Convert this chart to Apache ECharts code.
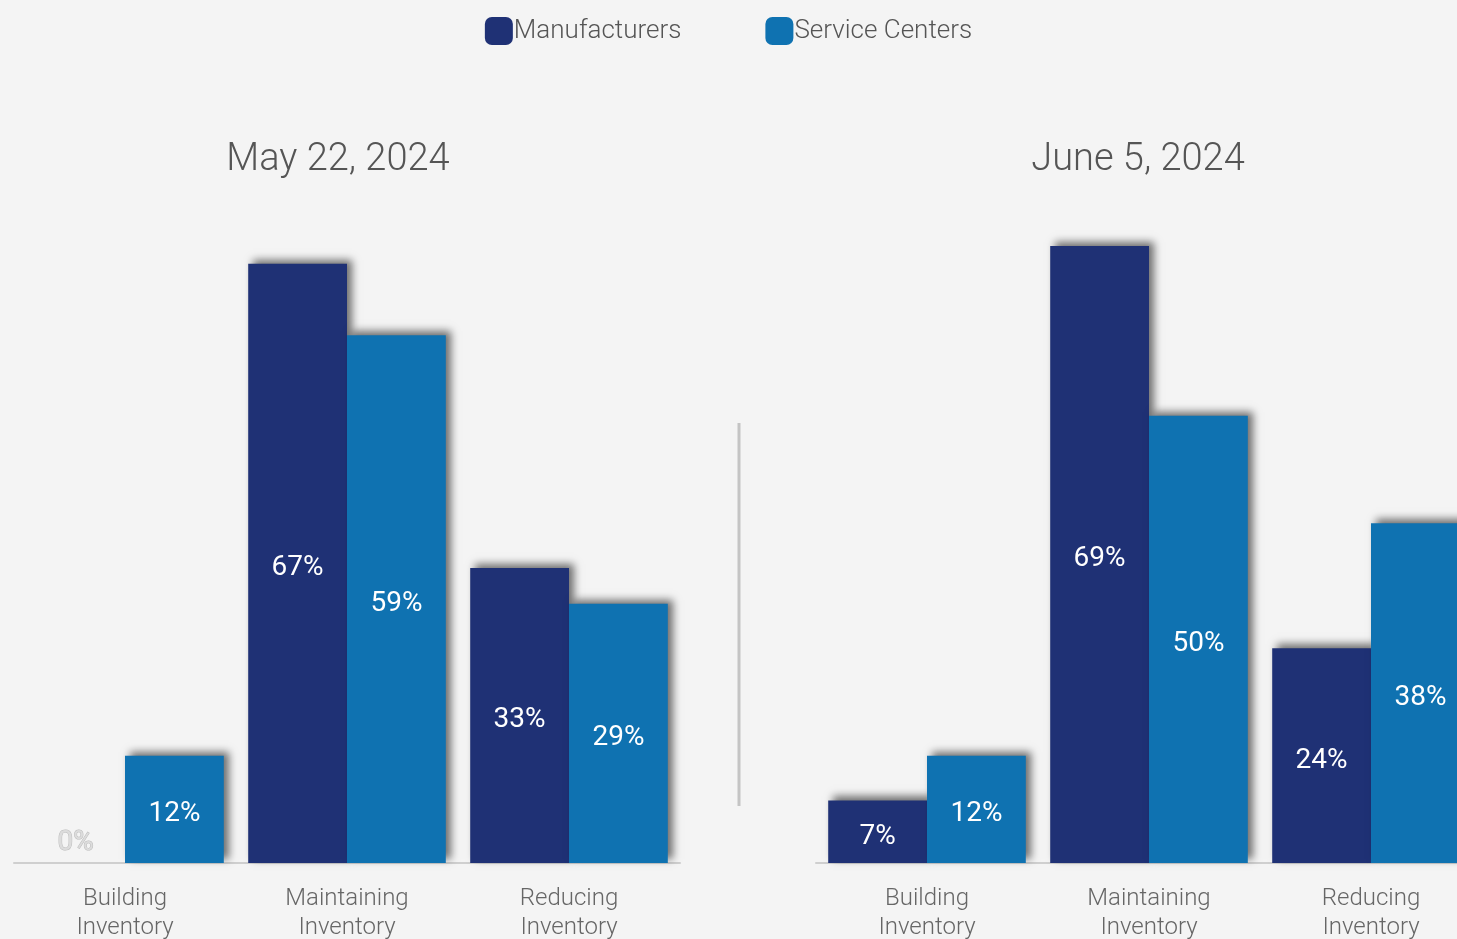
<!DOCTYPE html>
<html><head><meta charset="utf-8">
<script src="https://cdn.jsdelivr.net/npm/echarts@6/dist/echarts.min.js"></script>
<style>html,body{margin:0;padding:0;background:#f4f4f4;}#c{width:1457px;height:939px;}</style>
</head><body><div id="c"></div>
<script>
const categories = ['Building\nInventory', 'Maintaining\nInventory', 'Reducing\nInventory'];
const seriesNames = ['Manufacturers', 'Service Centers'];
const titles = ['May 22, 2024', 'June 5, 2024'];
const mayManufacturers = [0, 67, 33];
const mayServiceCenters = [12, 59, 29];
const juneManufacturers = [7, 69, 24];
const juneServiceCenters = [12, 50, 38];

const colors = ['#1f3175', '#0f72b1'];
const FONT = 'Roboto';
const chart = echarts.init(document.getElementById('c'));

function makeSeries(name, data, idx, color) {
  return {
    name: name, type: 'bar', xAxisIndex: idx, yAxisIndex: idx,
    barGap: '0%', barCategoryGap: '11%',
    itemStyle: { color: color, shadowColor: 'rgba(0,0,0,0.55)', shadowBlur: 8, shadowOffsetX: 5, shadowOffsetY: -4 },
    label: { show: true, position: 'inside', offset: [0, 5], color: '#fff', fontSize: 28, fontFamily: FONT,
      formatter: p => p.value + '%' },
    data: data.map(v => v === 0 ? {
      value: v,
      label: { position: 'top', distance: 6, offset: [0, 0], color: '#dcdcdc', textBorderColor: '#bbb', textBorderWidth: 1 }
    } : v)
  };
}

const option = {
  backgroundColor: '#f4f4f4',
  animation: false,
  legend: {
    top: 12, left: 'center', itemWidth: 28, itemHeight: 28, itemGap: 84,
    icon: 'roundRect',
    textStyle: { fontSize: 26, color: '#555', fontFamily: FONT, fontWeight: 300, padding: [0, 0, 0, -4] },
    data: seriesNames
  },
  title: [
    { text: titles[0], left: 333, top: 136, textAlign: 'center',
      textStyle: { fontSize: 38, fontWeight: 300, color: '#555', fontFamily: FONT } },
    { text: titles[1], left: 1133, top: 136, textAlign: 'center',
      textStyle: { fontSize: 38, fontWeight: 300, color: '#555', fontFamily: FONT } }
  ],
  grid: [
    { left: 14, right: 777, top: 237, bottom: 76, containLabel: false, outerBoundsMode: 'none' },
    { left: 816, right: -25, top: 237, bottom: 76, containLabel: false, outerBoundsMode: 'none' }
  ],
  xAxis: [0, 1].map(i => ({
    type: 'category', gridIndex: i, data: categories,
    axisLine: { lineStyle: { color: '#cfcfcf', width: 2 } },
    axisTick: { show: false },
    axisLabel: { color: '#666', fontSize: 24, lineHeight: 29, margin: 21, fontFamily: FONT, fontWeight: 300, interval: 0 }
  })),
  yAxis: [0, 1].map(i => ({
    type: 'value', gridIndex: i, min: 0, max: 70, show: false, splitLine: { show: false }
  })),
  graphic: [{
    type: 'line', shape: { x1: 739, y1: 423, x2: 739, y2: 806 },
    style: { stroke: '#c4c4c4', lineWidth: 3 }
  }],
  series: [
    makeSeries(seriesNames[0], mayManufacturers, 0, colors[0]),
    makeSeries(seriesNames[1], mayServiceCenters, 0, colors[1]),
    makeSeries(seriesNames[0], juneManufacturers, 1, colors[0]),
    makeSeries(seriesNames[1], juneServiceCenters, 1, colors[1])
  ]
};
chart.setOption(option);
</script>
</body></html>
